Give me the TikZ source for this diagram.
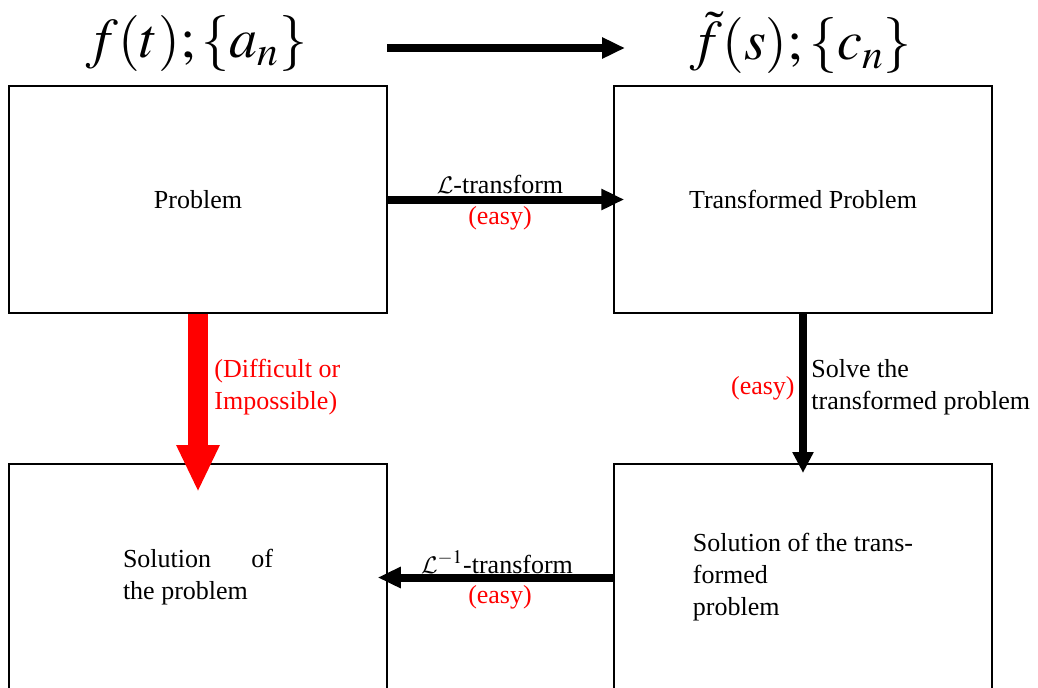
\documentclass[tikz,border=0pt]{standalone}
\usepackage{mathptmx}
\DeclareMathAlphabet{\mathcal}{OMS}{cmsy}{m}{n}
\usepackage[no-math]{fontspec}
\setmainfont{Liberation Serif}
\usetikzlibrary{arrows.meta}
\begin{document}
\begin{tikzpicture}[x=0.5pt,y=-0.5pt,
  box/.style={draw, line width=0.75pt, minimum width=189pt, minimum height=113.5pt, inner sep=0pt, font=\fontsize{13}{16}\selectfont},
  lbl/.style={font=\fontsize{13}{16}\selectfont, inner sep=0pt},
  ttl/.style={font=\fontsize{28}{32}\selectfont, inner sep=0pt},
  bigarrow/.style={line width=4pt, -{Triangle[length=11.5pt,width=10pt]}},
  downarrow/.style={line width=4pt, -{Triangle[length=10.5pt,width=10pt]}},
  hardarrow/.style={red, line width=10pt, -{Triangle[length=23.5pt,width=20pt]}}
]
\useasboundingbox (0,0) rectangle (1038,687);
% titles
\node[ttl] (t1) at (197,43) {$f(t);\{a_n\}$};
\node[ttl] (t2) at (801,43) {$\tilde{f}(s);\{c_n\}$};
\coordinate (ta) at (387,48);
\coordinate (tb) at (625,48);
\draw[bigarrow] (ta) -- (tb);
% boxes
\node[box] (b1) at (198,199.5) {Problem};
\node[box] (b2) at (803,199.5) {Transformed Problem};
\node[box] (b3) at (198,577.5) {\parbox{75pt}{Solution of the problem}};
\node[box, align=left] (b4) at (803,577.5) {Solution of the trans-\\formed\\problem};
% top transform
\draw[bigarrow] (b1.east) -- ([xshift=5.5pt]b2.west);
\node[lbl] (l1) at (500,184) {$\mathcal{L}$-transform};
\node[lbl, text=red] (e1) at (500,218) {(easy)};
% red difficult arrow
\coordinate (redtip) at (198,492);
\draw[hardarrow] (b1.south) -- (redtip);
\node[lbl, text=red, align=left, anchor=west] (d1) at (214,387) {(Difficult or\\Impossible)};
% solve arrow
\coordinate (rtip) at (803,473);
\draw[downarrow] (b2.south) -- (rtip);
\node[lbl, text=red, anchor=east] (e2) at (795,388) {(easy)};
\node[lbl, align=left, anchor=west] (s1) at (811,387) {Solve the\\transformed problem};
% inverse transform
\draw[bigarrow] (b4.west) -- ([xshift=-5pt]b3.east);
\node[lbl] (l2) at (497,562) {$\mathcal{L}^{-1}$-transform};
\node[lbl, text=red] (e3) at (500,597) {(easy)};
\end{tikzpicture}
\end{document}
